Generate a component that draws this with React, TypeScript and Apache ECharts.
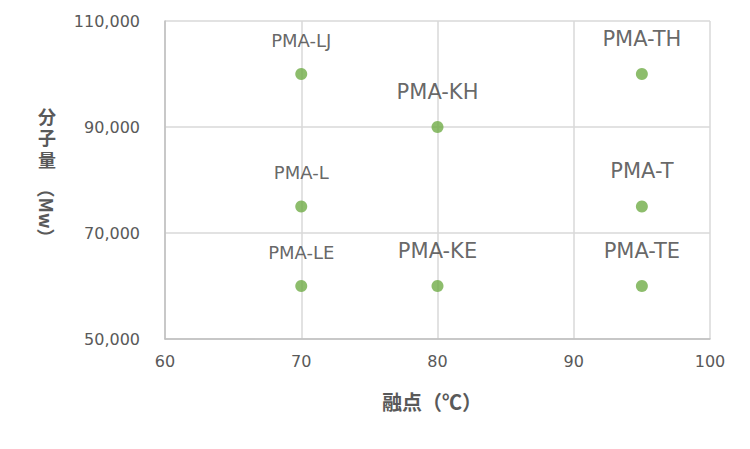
import React, { useEffect, useRef } from "react";
import * as echarts from "echarts";

const names = ["PMA-LJ", "PMA-KH", "PMA-TH", "PMA-L", "PMA-T", "PMA-LE", "PMA-KE", "PMA-TE"];
const meltingPoints = [70, 80, 95, 70, 95, 70, 80, 95];
const molecularWeights = [100000, 90000, 100000, 75000, 75000, 60000, 60000, 60000];
const largeLabel = [false, true, true, false, true, false, true, true];
const xTicks = [60, 70, 80, 90, 100];
const yTicks = [50000, 70000, 90000, 110000];
const xTitle = "融点（℃）";
const yTitleUpright = ["分", "子", "量"];
const yTitleRotated = "（Mw）";

const LATIN = "'DejaVu Sans', 'Noto Sans', sans-serif";
const CJK = "'Noto Sans CJK JP', 'Noto Sans', sans-serif";
const CJK_TIGHT = "'DejaVu Sans', 'Noto Sans CJK JP', sans-serif";

// page offset (body margin)
const OX = 8;
const OY = 8;

export default function App() {
  const ref = useRef<HTMLDivElement>(null);
  useEffect(() => {
    if (!ref.current) return;
    const chart = echarts.init(ref.current, null, { renderer: "svg" });
    const data = names.map((n, i) => ({
      name: n,
      value: [meltingPoints[i], molecularWeights[i]],
      label: { fontSize: largeLabel[i] ? 21 : 18 },
    }));
    const yCenters = [117, 138, 160];
    const graphic: any[] = [
      {
        type: "text",
        x: 432 - OX,
        y: 401 - OY,
        style: {
          text: xTitle,
          font: `bold 20px ${CJK}`,
          fill: "#595959",
          align: "center",
          verticalAlign: "middle",
        },
      },
      ...yTitleUpright.map((c, i) => ({
        type: "text",
        x: 47 - OX,
        y: yCenters[i] - OY,
        style: {
          text: c,
          font: `bold 18px ${CJK_TIGHT}`,
          lineHeight: 18,
          fill: "#595959",
          align: "center",
          verticalAlign: "middle",
        },
      })),
      {
        type: "text",
        x: 47 - OX,
        y: 213 - OY,
        rotation: -Math.PI / 2,
        style: {
          text: yTitleRotated,
          font: `bold 18px ${CJK}`,
          lineHeight: 18,
          fill: "#595959",
          align: "center",
          verticalAlign: "middle",
        },
      },
    ];
    chart.setOption({
      animation: false,
      grid: { left: 165 - OX, right: 750 - 710 + OX, top: 21 - OY, bottom: 449 - 339 + OY, containLabel: false },
      xAxis: {
        type: "value",
        min: xTicks[0],
        max: xTicks[xTicks.length - 1],
        interval: 10,
        axisLine: { show: true, lineStyle: { color: "#bfbfbf", width: 1.5 } },
        axisTick: { show: false },
        splitLine: { show: true, lineStyle: { color: "#d9d9d9", width: 1.5 } },
        axisLabel: { color: "#595959", fontSize: 16, fontFamily: LATIN, margin: 14 },
      },
      yAxis: {
        type: "value",
        min: yTicks[0],
        max: yTicks[yTicks.length - 1],
        interval: 20000,
        axisLine: { show: true, lineStyle: { color: "#bfbfbf", width: 1.5 } },
        axisTick: { show: false },
        splitLine: { show: true, lineStyle: { color: "#d9d9d9", width: 1.5 } },
        axisLabel: {
          color: "#595959",
          fontSize: 16,
          fontFamily: LATIN,
          margin: 25,
          formatter: (v: number) => v.toLocaleString("en-US"),
        },
      },
      graphic,
      series: [
        {
          type: "scatter",
          symbol: "circle",
          symbolSize: 12,
          itemStyle: { color: "#70ad47" },
          label: {
            show: true,
            position: "top",
            distance: 19,
            formatter: "{b}",
            color: "#404040",
            fontFamily: LATIN,
          },
          data,
        },
      ],
    });
    return () => chart.dispose();
  }, []);
  return <div ref={ref} style={{ width: 750, height: 449 }} />;
}
